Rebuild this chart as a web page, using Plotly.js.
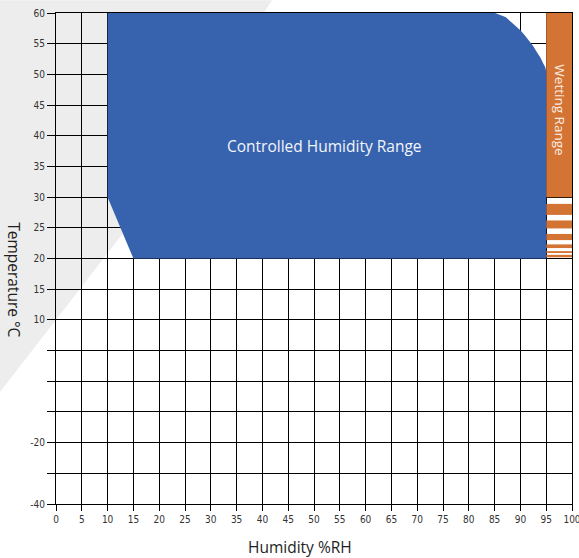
<!DOCTYPE html>
<html>
<head>
<meta charset="utf-8">
<script src="https://cdn.plot.ly/plotly-3.0.1.min.js"></script>
<style>
  html, body { margin: 0; padding: 0; background: #ffffff; }
  #chart { width: 579px; height: 558px; }
</style>
</head>
<body>
<div id="chart"></div>
<script>
// ---- data ----
// Controlled humidity region outline (humidity %RH, temperature °C)
var regionHumidity    = [10, 85.1, 87.2, 88.6, 90.0, 90.8, 91.9, 92.5, 93.2, 93.9, 94.4, 94.8, 95, 95, 15, 10, 10];
var regionTemperature = [60, 60,   59.3, 58.3, 57.2, 56.4, 55.3, 54.6, 53.6, 52.7, 51.8, 51.2, 50.5, 20, 20, 30, 60];

// Wetting range column (humidity 95-100), orange segments
var wetHumidity = 97.5;
var wetWidth = 5;
var wetBottom = [30, 27.1, 24.9, 23.0, 21.7, 20.9, 20.2];
var wetTop    = [60, 28.9, 26.2, 24.0, 22.3, 21.2, 20.6];

// Axis ticks
var xTickVals = [0,5,10,15,20,25,30,35,40,45,50,55,60,65,70,75,80,85,90,95,100];
var yTickVals = [60,55,50,45,40,35,30,25,20,15,10,5,0,-5,-10,-15,-20];
var yTickText = ['60','55','50','45','40','35','30','25','20','15','10','','','','-20','','-40'];

var blue = '#3762ae';
var orange = '#d37435';
var gridCol = '#000000';
var tickFont = {family: 'Liberation Sans Narrow, DejaVu Sans Condensed, sans-serif', size: 10, color: '#333333'};

var traces = [
  {
    type: 'scatter', mode: 'lines',
    x: regionHumidity, y: regionTemperature,
    fill: 'toself', fillcolor: blue,
    line: {width: 0, color: blue},
    hoverinfo: 'skip', showlegend: false
  },
  {
    type: 'bar',
    x: wetBottom.map(function(){ return wetHumidity; }),
    width: wetBottom.map(function(){ return wetWidth; }),
    base: wetBottom,
    y: wetTop.map(function(t, i){ return t - wetBottom[i]; }),
    marker: {color: orange, line: {width: 0}},
    hoverinfo: 'skip', showlegend: false
  }
];

var layout = {
  width: 579, height: 558,
  margin: {l: 56, r: 7, t: 12.7, b: 54},
  paper_bgcolor: '#ffffff',
  plot_bgcolor: 'rgba(0,0,0,0)',
  barmode: 'overlay',
  showlegend: false,
  hovermode: false,
  xaxis: {
    range: [0, 100], tickvals: xTickVals,
    showgrid: true, gridcolor: gridCol, gridwidth: 1,
    zeroline: false,
    showline: true, mirror: true, linecolor: gridCol, linewidth: 1,
    ticks: 'outside', ticklen: 6, tickcolor: gridCol, tickwidth: 1,
    tickfont: tickFont, ticklabeloverflow: 'allow', fixedrange: true
  },
  yaxis: {
    range: [-20, 60], tickvals: yTickVals, ticktext: yTickText,
    showgrid: true, gridcolor: gridCol, gridwidth: 1,
    zeroline: false,
    showline: true, mirror: true, linecolor: gridCol, linewidth: 1,
    ticks: 'outside', ticklen: 8, tickcolor: gridCol, tickwidth: 1,
    tickfont: tickFont, ticklabeloverflow: 'allow', fixedrange: true
  },
  shapes: [
    {
      type: 'path', xref: 'paper', yref: 'paper', layer: 'below',
      path: 'M -0.1085 1.026 L 0.4186 1.026 L 0.124 0.5434 L -0.1085 0.2280 Z',
      fillcolor: '#ededed', line: {width: 0}
    }
  ],
  annotations: [
    {
      text: 'Controlled Humidity Range', x: 52.0, y: 38.3, xref: 'x', yref: 'y',
      xanchor: 'center', yanchor: 'middle',
      showarrow: false, font: {family: 'Open Sans, sans-serif', size: 15.5, color: '#f2f5fb'}
    },
    {
      text: 'Wetting Range', x: 97.6, y: 44.2, xref: 'x', yref: 'y',
      xanchor: 'center', yanchor: 'middle',
      showarrow: false, textangle: 90,
      font: {family: 'Open Sans, sans-serif', size: 13.5, color: '#fbece2'}
    },
    {
      text: 'Humidity %RH', xref: 'paper', yref: 'paper',
      x: (299.5 - 56) / 516, y: (504 - 547) / 491.3,
      xanchor: 'center', yanchor: 'middle',
      showarrow: false, font: {family: 'Open Sans, sans-serif', size: 15.5, color: '#1e1e1e'}
    },
    {
      text: 'Temperature °C', xref: 'paper', yref: 'paper',
      x: (14 - 56) / 516, y: (504 - 279) / 491.3,
      xanchor: 'center', yanchor: 'middle',
      showarrow: false, textangle: 90,
      font: {family: 'Open Sans, sans-serif', size: 15.5, color: '#1e1e1e'}
    }
  ]
};

Plotly.newPlot('chart', traces, layout, {displayModeBar: false, staticPlot: true});
</script>
</body>
</html>
